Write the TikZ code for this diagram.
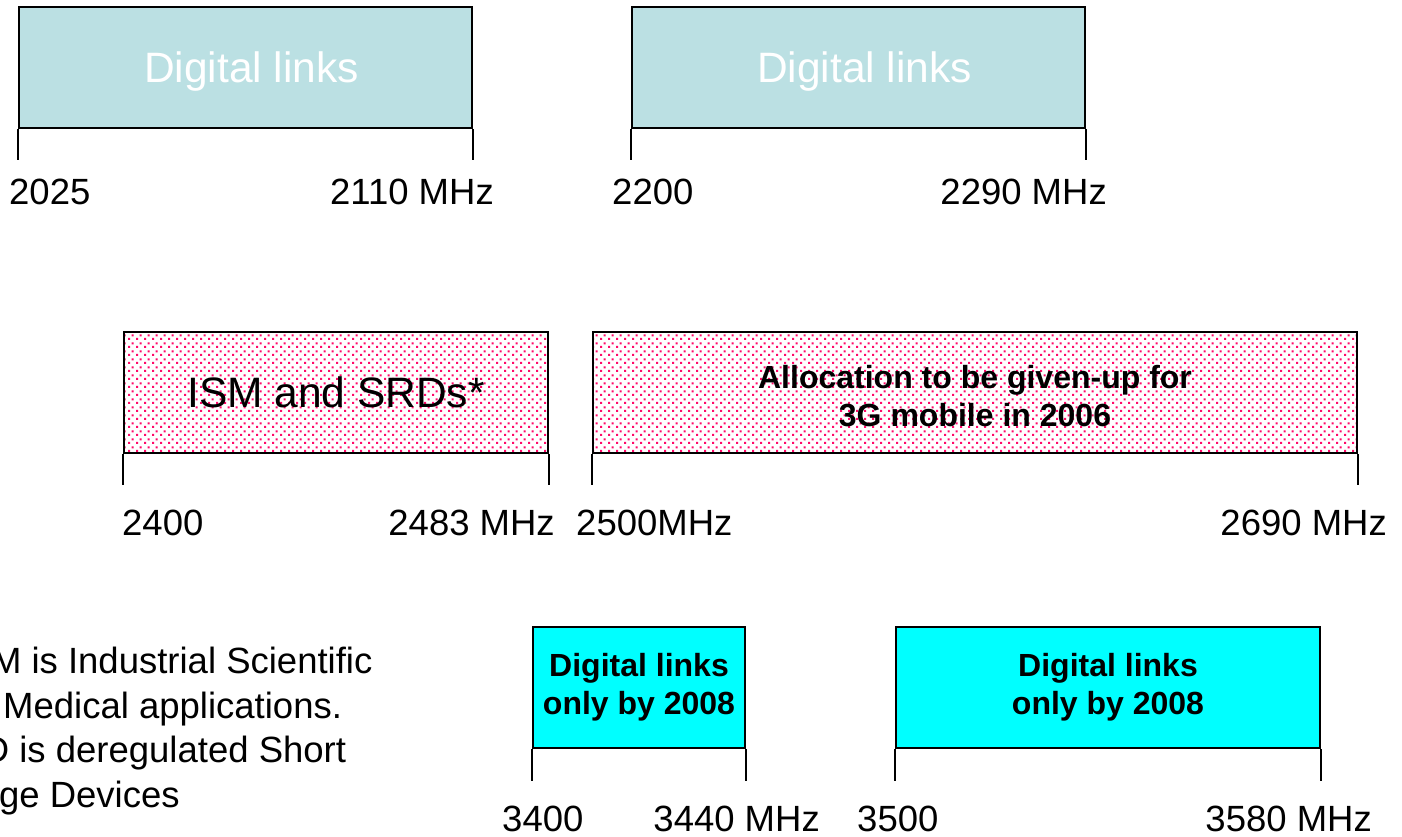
\documentclass[tikz,border=0pt]{standalone}
\usepackage{fontspec}
\setmainfont{Liberation Sans}
\usetikzlibrary{patterns}
\pgfdeclarepatternformonly{pinkdots}{\pgfpointorigin}{\pgfpoint{8pt}{8pt}}{\pgfpoint{8pt}{8pt}}{%
  \pgfpathrectangle{\pgfpoint{0pt}{0pt}}{\pgfpoint{2.4pt}{2.4pt}}%
  \pgfpathrectangle{\pgfpoint{4pt}{4pt}}{\pgfpoint{2.4pt}{2.4pt}}%
  \pgfusepath{fill}}
\definecolor{linkteal}{RGB}{187,224,227}
\definecolor{linkcyan}{RGB}{0,255,255}
\definecolor{dotpink}{RGB}{255,10,105}
\tikzset{
  band/.style={draw=black, line width=2pt, minimum height=121pt, inner sep=0pt},
  bigtext/.style={font=\fontsize{42.5}{50}\selectfont, text height=30pt, text depth=1pt},
  boldtext/.style={font=\bfseries\fontsize{32}{38}\selectfont, align=center},
  tealband/.style={band, fill=linkteal, text=white, bigtext},
  pinkband/.style={band, pattern=pinkdots, pattern color=dotpink},
  cyanband/.style={band, fill=linkcyan, boldtext},
  freq/.style={anchor=base west, font=\fontsize{36.5}{44}\selectfont, inner sep=0pt},
  freqend/.style={freq, anchor=base east},
  tickline/.style={line width=2pt},
  notetext/.style={anchor=base west, align=left, inner sep=0pt, font=\fontsize{36.5}{44.5}\selectfont}
}
\begin{document}
\begin{tikzpicture}[x=1pt, y=-1pt]
\path[use as bounding box, fill=white] (0,0) rectangle (1402,836);

% Row 1
\node[tealband, minimum width=453pt] (dl1) at (245.5,67.5) {\hspace*{12pt}Digital links};
\node[tealband, minimum width=453pt] (dl2) at (858.5,67.5) {\hspace*{12pt}Digital links};
\draw[tickline] (dl1.south west) -- ++(0,31);
\draw[tickline] (dl1.south east) -- ++(0,31);
\draw[tickline] (dl2.south west) -- ++(0,31);
\draw[tickline] (dl2.south east) -- ++(0,31);
\node[freq] (f2025) at (9,204) {2025};
\node[freqend] (f2110) at (494,204) {2110 MHz};
\node[freq] (f2200) at (612,204) {2200};
\node[freqend] (f2290) at (1107,204) {2290 MHz};

% Row 2
\node[pinkband, bigtext, minimum width=424pt] (ism) at (336,392.5) {ISM and SRDs*};
\node[pinkband, boldtext, text height=69pt, minimum width=764pt] (alloc) at (975,392.5) {Allocation to be given-up for\\3G mobile in 2006};
\draw[tickline] (ism.south west) -- ++(0,31);
\draw[tickline] (ism.south east) -- ++(0,31);
\draw[tickline] (alloc.south west) -- ++(0,31);
\draw[tickline] (alloc.south east) -- ++(0,31);
\node[freq] (f2400) at (122,535) {2400};
\node[freqend] (f2483) at (555,535) {2483 MHz};
\node[freq] (f2500) at (576,535) {2500MHz};
\node[freqend] (f2690) at (1387,535) {2690 MHz};

% Row 3
\node[cyanband, minimum width=212.5pt] (dl3) at (639,687.5) {Digital links\\only by 2008};
\node[cyanband, minimum width=424pt] (dl4) at (1108,687.5) {Digital links\\only by 2008};
\draw[tickline] (dl3.south west) -- ++(0,32);
\draw[tickline] (dl3.south east) -- ++(0,32);
\draw[tickline] (dl4.south west) -- ++(0,32);
\draw[tickline] (dl4.south east) -- ++(0,32);
\node[freq] (f3400) at (502,831) {3400};
\node[freqend] (f3440) at (820,831) {3440 MHz};
\node[freq] (f3500) at (857,831) {3500};
\node[freqend] (f3580) at (1372,831) {3580 MHz};

% Footnote (cut by the left edge)
\begin{scope}
\clip (0,0) rectangle (1402,836);
\node[notetext] (note) at (-68,807) {* ISM is Industrial Scientific\\and Medical applications.\\SRD is deregulated Short\\Range Devices};
\end{scope}
\end{tikzpicture}
\end{document}
